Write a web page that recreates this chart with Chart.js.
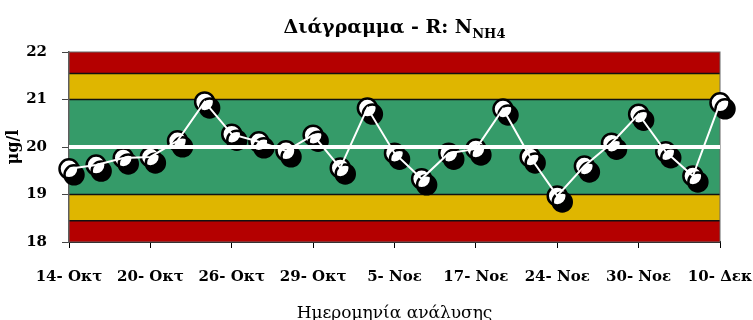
<!DOCTYPE html>
<html>
<head>
<meta charset="utf-8">
<script src="https://cdn.jsdelivr.net/npm/chart.js@4"></script>
<style>
  html, body { margin: 0; background: #fff; }
  canvas { display: block; }
</style>
</head>
<body>
<canvas id="chart" width="753" height="320"></canvas>
<script>
// Ετικέτες άξονα x (μία ανά 3 μετρήσεις)
const tickLabels = ["14- Οκτ", "20- Οκτ", "26- Οκτ", "29- Οκτ", "5- Νοε", "17- Νοε", "24- Νοε", "30- Νοε", "10- Δεκ"];

// Τιμές R (μg/l)
const values = [19.54, 19.62, 19.77, 19.79, 20.13, 20.95, 20.27, 20.11, 19.92, 20.25, 19.56, 20.82, 19.87,
                19.33, 19.87, 19.96, 20.80, 19.79, 18.97, 19.60, 20.08, 20.69, 19.90, 19.39, 20.93];

// Όρια ζωνών
const centerLine = 20;
const warningLimits = [19, 21];
const actionLimits = [18.45, 21.55];
const yRange = [18, 22];

const FONT = "'DejaVu Serif', serif";
const points = values.map((v, i) => ({ x: i, y: v }));

// Ζώνες (κόκκινο / κίτρινο / πράσινο)
const bandsPlugin = {
    id: "bands",
    beforeDatasetsDraw(chart) {
        const { ctx, chartArea: a, scales: { y } } = chart;
        const zones = [
            [yRange[0], actionLimits[0], "#b40000"],
            [actionLimits[0], warningLimits[0], "#dfb600"],
            [warningLimits[0], warningLimits[1], "#359b69"],
            [warningLimits[1], actionLimits[1], "#dfb600"],
            [actionLimits[1], yRange[1], "#b40000"]
        ];
        ctx.save();
        zones.forEach(([lo, hi, col]) => {
            const top = y.getPixelForValue(hi);
            const bot = y.getPixelForValue(lo);
            ctx.fillStyle = col;
            ctx.fillRect(a.left, top, a.right - a.left, bot - top);
        });
        ctx.strokeStyle = "#111";
        ctx.lineWidth = 1.5;
        [actionLimits[0], warningLimits[0], warningLimits[1], actionLimits[1]].forEach((v) => {
            const py = y.getPixelForValue(v);
            ctx.beginPath();
            ctx.moveTo(a.left, py);
            ctx.lineTo(a.right, py);
            ctx.stroke();
        });
        ctx.strokeStyle = "#666";
        ctx.lineWidth = 1;
        ctx.strokeRect(a.left, a.top, a.right - a.left, a.bottom - a.top);
        ctx.restore();
    }
};

// Κεντρική γραμμή πάνω από τα σημεία
const centerPlugin = {
    id: "center",
    afterDatasetsDraw(chart) {
        const { ctx, chartArea: a, scales: { y } } = chart;
        const py = y.getPixelForValue(centerLine);
        ctx.save();
        ctx.strokeStyle = "#fff";
        ctx.lineWidth = 4;
        ctx.beginPath();
        ctx.moveTo(a.left, py);
        ctx.lineTo(a.right, py);
        ctx.stroke();
        ctx.restore();
    }
};

// Σκιά στους δείκτες
const shadowPlugin = {
    id: "shadow",
    beforeDatasetDraw(chart, args) {
        if (args.index !== 1) return;
        const ctx = chart.ctx;
        ctx.save();
        ctx.shadowColor = "#000";
        ctx.shadowOffsetX = 5;
        ctx.shadowOffsetY = 6;
        ctx.shadowBlur = 0;
    },
    afterDatasetDraw(chart, args) {
        if (args.index !== 1) return;
        chart.ctx.restore();
    }
};

// Τίτλος με δείκτη
const titlePlugin = {
    id: "titleSub",
    afterDraw(chart) {
        const { ctx, chartArea: a } = chart;
        const main = "Διάγραμμα - R: N";
        const sub = "NH4";
        ctx.save();
        ctx.fillStyle = "#000";
        ctx.textBaseline = "alphabetic";
        ctx.font = "bold 19px " + FONT;
        const w1 = ctx.measureText(main).width;
        ctx.font = "bold 13px " + FONT;
        const w2 = ctx.measureText(sub).width;
        const x0 = (a.left + a.right) / 2 - (w1 + w2) / 2;
        ctx.font = "bold 19px " + FONT;
        ctx.fillText(main, x0, 33);
        ctx.font = "bold 13px " + FONT;
        ctx.fillText(sub, x0 + w1, 38);
        ctx.restore();
    }
};

new Chart(document.getElementById("chart"), {
    type: "scatter",
    data: {
        datasets: [
            {
                data: points,
                showLine: true,
                borderColor: "#fff",
                borderWidth: 2,
                pointRadius: 0
            },
            {
                data: points,
                showLine: false,
                pointRadius: 9.5,
                pointBorderWidth: 2.5,
                pointBackgroundColor: "#fff",
                pointBorderColor: "#000",
                clip: false
            }
        ]
    },
    options: {
        responsive: false,
        animation: false,
        events: [],
        layout: { padding: { top: 52, left: 0, right: 0, bottom: 0 } },
        plugins: {
            legend: { display: false },
            tooltip: { enabled: false }
        },
        scales: {
            x: {
                type: "linear",
                min: 0,
                max: values.length - 1,
                afterFit(scale) {
                    scale.paddingLeft = 0;
                    scale.paddingRight = 33;
                    scale.height = 78;
                },
                ticks: {
                    stepSize: 3,
                    autoSkip: false,
                    maxRotation: 0,
                    padding: 20,
                    color: "#000",
                    font: { family: FONT, size: 15, weight: "bold" },
                    callback: (v) => tickLabels[v / 3]
                },
                grid: { drawOnChartArea: false, tickLength: 6, color: "#000" },
                border: { color: "#000", width: 2 },
                title: {
                    display: true,
                    text: "Ημερομηνία ανάλυσης",
                    color: "#000",
                    font: { family: FONT, size: 17, lineHeight: 1 },
                    padding: { top: 0, bottom: -2 }
                }
            },
            y: {
                min: yRange[0],
                max: yRange[1],
                afterFit(scale) {
                    scale.width = 69;
                },
                ticks: {
                    stepSize: 1,
                    padding: 15,
                    color: "#000",
                    font: { family: FONT, size: 15, weight: "bold" }
                },
                grid: { drawOnChartArea: false, tickLength: 7, color: "#444" },
                border: { color: "#555", width: 1.5 },
                title: {
                    display: true,
                    text: "μg/l",
                    color: "#000",
                    font: { family: FONT, size: 16, weight: "bold", lineHeight: 1 },
                    padding: { top: 6, bottom: 4 }
                }
            }
        }
    },
    plugins: [bandsPlugin, shadowPlugin, centerPlugin, titlePlugin]
});
</script>
</body>
</html>
